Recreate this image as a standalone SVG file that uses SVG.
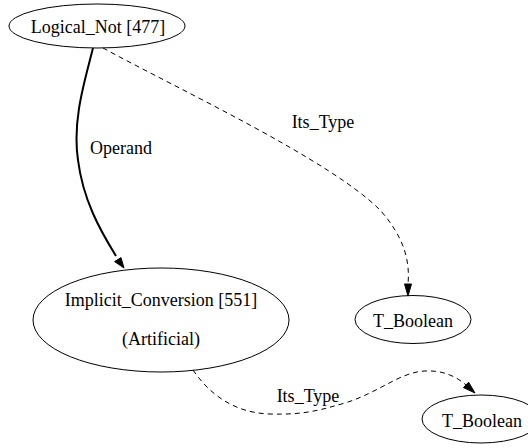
<svg xmlns="http://www.w3.org/2000/svg" width="528" height="448" viewBox="0 0 528 448">
  <style>
    .node ellipse { fill: none; stroke: #000; stroke-width: 1; }
    text { font-family: "Liberation Serif", "Times New Roman", serif; font-size: 18px; fill: #000; text-anchor: middle; }
    .edge path { fill: none; stroke: #000; }
    .solid { stroke-width: 2; }
    .dashed { stroke-width: 1; stroke-dasharray: 5,4; }
    .head { fill: #000; stroke: #000; }
  </style>
  <rect width="528" height="448" fill="#fff"/>

  <g id="edges" class="edge">
    <!-- Operand -->
    <path class="solid" d="M93,48 C85,80 72,120 78,160 C83,200 100,230 116,256"/>
    <polygon class="head" points="124,268 114.6,261.6 121,257.6"/>
    <text x="121" y="154">Operand</text>
    <!-- Its_Type to first T_Boolean -->
    <path class="dashed" d="M103,48 C180,90 330,160 380,210 C405,238 410,262 408,284"/>
    <polygon class="head" points="408,296 404.5,284 411.5,284"/>
    <text x="323" y="128">Its_Type</text>
    <!-- Its_Type to second T_Boolean -->
    <path class="dashed" d="M193,370 C210,395 235,413 270,414 C305,415 320,410 345,403 C380,392 400,372 425,371 C445,370 458,378 466,385"/>
    <polygon class="head" points="475,393 463.4,387.6 468.6,382.2"/>
    <text x="308" y="402">Its_Type</text>
  </g>

  <g id="logical_not" class="node">
    <ellipse cx="97" cy="26" rx="88" ry="22"/>
    <text x="98" y="33">Logical_Not [477]</text>
  </g>

  <g id="implicit_conversion" class="node">
    <ellipse cx="161" cy="320" rx="128" ry="52"/>
    <text x="161" y="306">Implicit_Conversion [551]</text>
    <text x="161" y="345">(Artificial)</text>
  </g>

  <g id="t_boolean_1" class="node">
    <ellipse cx="413" cy="319.5" rx="58" ry="24"/>
    <text x="413" y="327">T_Boolean</text>
  </g>

  <g id="t_boolean_2" class="node">
    <ellipse cx="481" cy="419" rx="59" ry="24"/>
    <text x="482" y="427">T_Boolean</text>
  </g>
</svg>
